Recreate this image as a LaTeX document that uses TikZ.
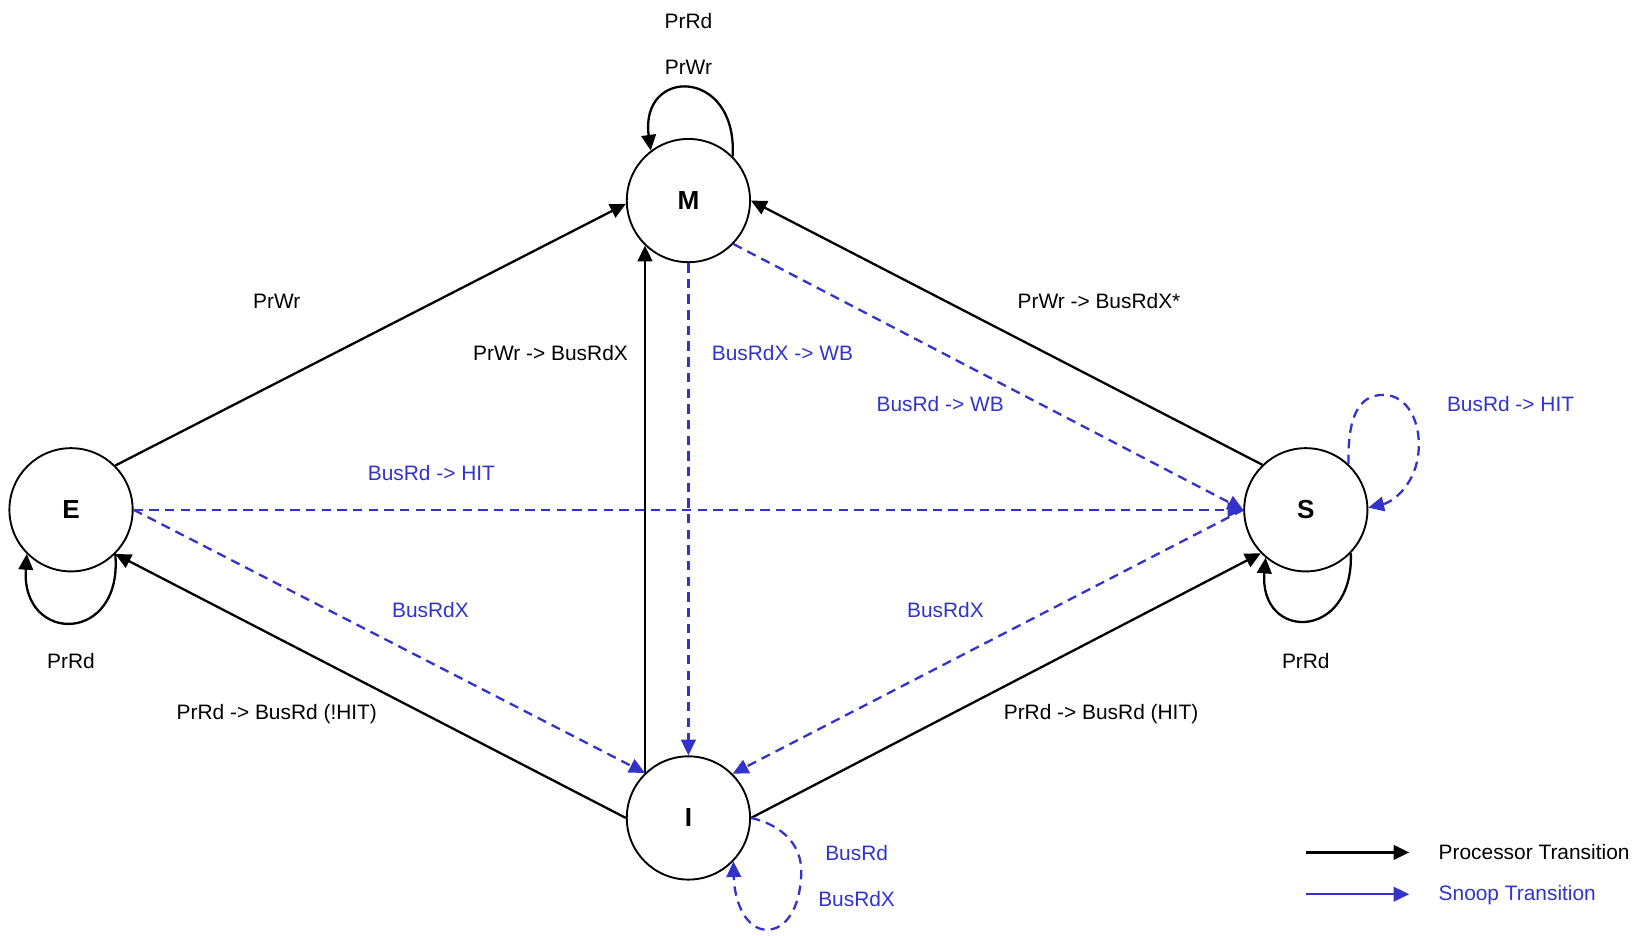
\documentclass[tikz,border=0pt]{standalone}
\usepackage{fontspec}
\setmainfont{Liberation Sans}
\usetikzlibrary{arrows.meta}
\definecolor{snoopblue}{RGB}{51,51,204}
\begin{document}
\begin{tikzpicture}[x=1pt,y=-1pt,
  state/.style={circle,draw,line width=1.8pt,minimum size=118pt,inner sep=0pt,font=\fontsize{25}{30}\selectfont\bfseries},
  proc/.style={line width=2.2pt,-{Triangle[length=15pt,width=14pt]}},
  snoop/.style={line width=2.2pt,draw=snoopblue,dash pattern=on 9pt off 6pt,-{Triangle[length=15pt,width=14pt]},color=snoopblue},
  snoopsolid/.style={line width=2.2pt,draw=snoopblue,-{Triangle[length=15pt,width=14pt]},color=snoopblue},
  lbl/.style={font=\fontsize{20}{24}\selectfont,inner sep=1pt},
  slbl/.style={lbl,text=snoopblue}]
\useasboundingbox (0,0) rectangle (1568,896);
% states
\node[state] (M) at (659,192) {M};
\node[state] (E) at (68,488) {E};
\node[state] (S) at (1250,488) {S};
\node[state] (I) at (659,783) {I};
% processor transitions
\draw[proc] (E.45) -- (M.183);
\draw[proc] (S.134) -- (M.east);
\draw[proc] (I.134) -- (M.226);
\draw[proc] (I.west) -- (E.-45);
\draw[proc] (I.east) -- (S.224);
\draw[proc] (M.45) .. controls (706,64) and (612,64) .. (M.127);
\draw[proc] (E.-45) .. controls (118,617) and (20,617) .. (E.-135);
\draw[proc] (S.-44) .. controls (1296,614) and (1205,614) .. (S.-130);
% snoop transitions
\draw[snoop] (M.south) -- (I.north);
\draw[snoop] (M.-44) -- (S.west);
\draw[snoop] (E.east) -- (S.west);
\draw[snoop] (E.east) -- (I.134);
\draw[snoop] (S.west) -- (I.45);
\draw[snoop] (I.east) .. controls (750,790) and (768,810) .. (767,836) .. controls (766,870) and (752,890) .. (734,890) .. controls (715,890) and (703,865) .. (I.-44);
\draw[snoop] (S.47) .. controls (1290,400) and (1300,378) .. (1324,378) .. controls (1348,378) and (1360,405) .. (1358,431) .. controls (1356,462) and (1335,480) .. (S.2);
% labels
\node[lbl] (tM1) at (659,20) {PrRd};
\node[lbl] (tM2) at (659,64) {PrWr};
\node[lbl] (tEM) at (265,288) {PrWr};
\node[lbl] (tIM) at (527,338) {PrWr -> BusRdX};
\node[slbl] (tMI) at (749,338) {BusRdX -> WB};
\node[lbl] (tSM) at (1052,288) {PrWr -> BusRdX*};
\node[slbl] (tMS) at (900,387) {BusRd -> WB};
\node[slbl] (tSS) at (1446,387) {BusRd -> HIT};
\node[slbl] (tES) at (413,453) {BusRd -> HIT};
\node[slbl] (tEI) at (412,584) {BusRdX};
\node[slbl] (tSI) at (905,584) {BusRdX};
\node[lbl] (tEE) at (68,633) {PrRd};
\node[lbl] (tSS2) at (1250,633) {PrRd};
\node[lbl] (tIE) at (265,684) {PrRd -> BusRd (!HIT)};
\node[lbl] (tIS) at (1054,684) {PrRd -> BusRd (HIT)};
\node[slbl] (tI1) at (820,817) {BusRd};
\node[slbl] (tI2) at (820,861) {BusRdX};
% legend
\coordinate (pa) at (1250,816);
\coordinate (pb) at (1349,816);
\coordinate (sa) at (1250,856);
\coordinate (sb) at (1349,856);
\draw[proc] (pa) -- (pb);
\draw[snoopsolid] (sa) -- (sb);
\node[lbl,anchor=west] (pt) at (1376,816) {Processor Transition};
\node[slbl,anchor=west] (st) at (1376,857) {Snoop Transition};
\end{tikzpicture}
\end{document}
